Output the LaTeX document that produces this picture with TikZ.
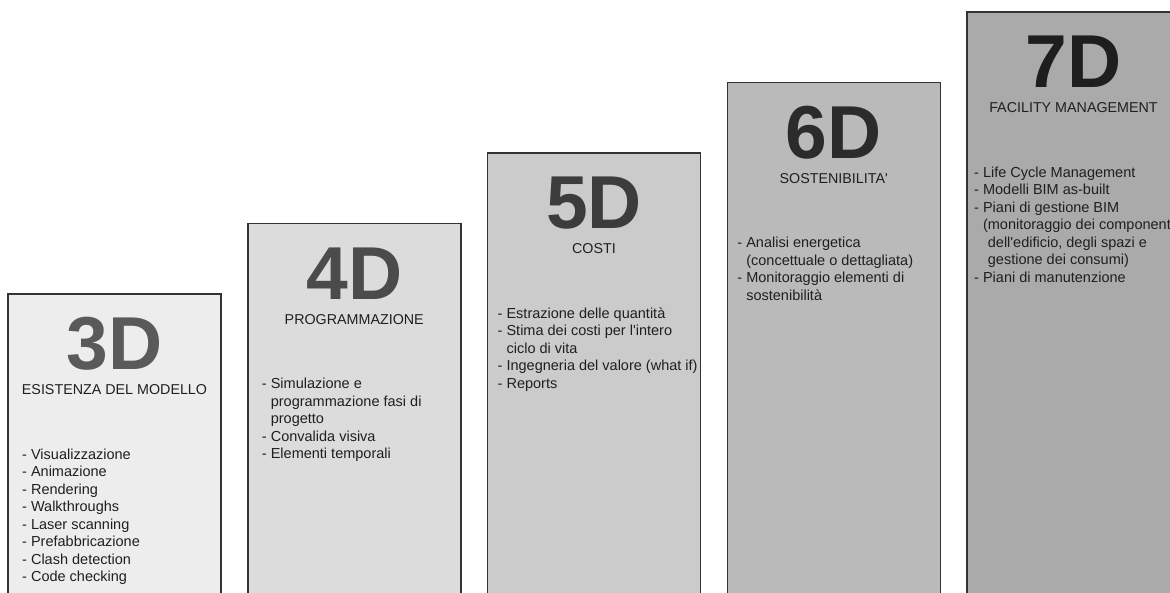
\documentclass[tikz,border=0pt]{standalone}
\usepackage{fontspec}
\setmainfont{Liberation Sans}
\usepackage{tikz}
\definecolor{boxborder}{HTML}{333333}
\definecolor{textgray}{HTML}{1F1F1F}
\definecolor{fillThree}{HTML}{EDEDED}
\definecolor{fillFour}{HTML}{DCDCDC}
\definecolor{fillFive}{HTML}{CBCBCB}
\definecolor{fillSix}{HTML}{BABABA}
\definecolor{fillSeven}{HTML}{AAAAAA}
\definecolor{labelThree}{HTML}{5A5A5A}
\definecolor{labelFour}{HTML}{4B4B4B}
\definecolor{labelFive}{HTML}{3C3C3C}
\definecolor{labelSix}{HTML}{2B2B2B}
\definecolor{labelSeven}{HTML}{1E1E1E}

\begin{document}
\begin{tikzpicture}[x=1pt,y=-1pt,
    levelbox/.style={draw=boxborder, line width=1.5pt, inner sep=0pt, outer sep=0pt,
      anchor=north west, minimum width=213pt},
    biglabel/.style={font=\fontsize{75}{75}\bfseries\selectfont, inner sep=0pt},
    subtitle/.style={font=\fontsize{14.3}{17}\selectfont, text=textgray, inner sep=0pt},
    itemlist/.style={font=\fontsize{14.5}{17.5}\selectfont, text=textgray, align=left,
      inner sep=0pt, anchor=north west}]

    % Picture frame: the boxes run off the bottom and the right edge
    \useasboundingbox (0,0) rectangle (1170,592);
    \clip (0,0) rectangle (1170,592);

    % One step of the staircase
    \newcommand{\drawLevel}[7]{% index, fill, label colour, label, subtitle, items, items inset
      \pgfmathsetmacro{\boxX}{8 + 239.75*(#1-3)} % left edge
      \pgfmathsetmacro{\boxY}{294 - 70.5*(#1-3)} % top edge
      \pgfmathsetmacro{\boxH}{610 - \boxY}
      \node[levelbox, fill=#2, minimum height=\boxH pt] (box#1) at (\boxX,\boxY) {};
      \node[biglabel, text=#3] (big#1) at ([yshift=-50pt]box#1.north) {#4};
      \node[subtitle] (sub#1) at ([yshift=-96pt]box#1.north) {#5};
      \node[itemlist] (items#1) at ([xshift=#7pt, yshift=-154.4pt]box#1.north west) {#6};
    }

    % Draw the levels
    \drawLevel{3}{fillThree}{labelThree}{3D}{ESISTENZA DEL MODELLO}{%
      - Visualizzazione\\- Animazione\\- Rendering\\- Walkthroughs\\%
      - Laser scanning\\- Prefabbricazione\\- Clash detection\\- Code checking}{14}
    \drawLevel{4}{fillFour}{labelFour}{4D}{PROGRAMMAZIONE}{%
      - Simulazione e\\\hphantom{- }programmazione fasi di\\\hphantom{- }progetto\\%
      - Convalida visiva\\- Elementi temporali}{14}
    \drawLevel{5}{fillFive}{labelFive}{5D}{COSTI}{%
      - Estrazione delle quantità\\- Stima dei costi per l\textquotesingle intero\\%
      \hphantom{- }ciclo di vita\\- Ingegneria del valore (what if)\\- Reports}{10}
    \drawLevel{6}{fillSix}{labelSix}{6D}{SOSTENIBILITA\textquotesingle}{%
      - Analisi energetica\\\hphantom{- }(concettuale o dettagliata)\\%
      - Monitoraggio elementi di\\\hphantom{- }sostenibilità}{10}
    \drawLevel{7}{fillSeven}{labelSeven}{7D}{FACILITY MANAGEMENT}{%
      - Life Cycle Management\\- Modelli BIM as-built\\- Piani di gestione BIM\\%
      \hphantom{- }(monitoraggio dei componenti\\%
      \hphantom{- (}dell\textquotesingle edificio, degli spazi e\\%
      \hphantom{- (}gestione dei consumi)\\- Piani di manutenzione}{7}
\end{tikzpicture}
\end{document}
